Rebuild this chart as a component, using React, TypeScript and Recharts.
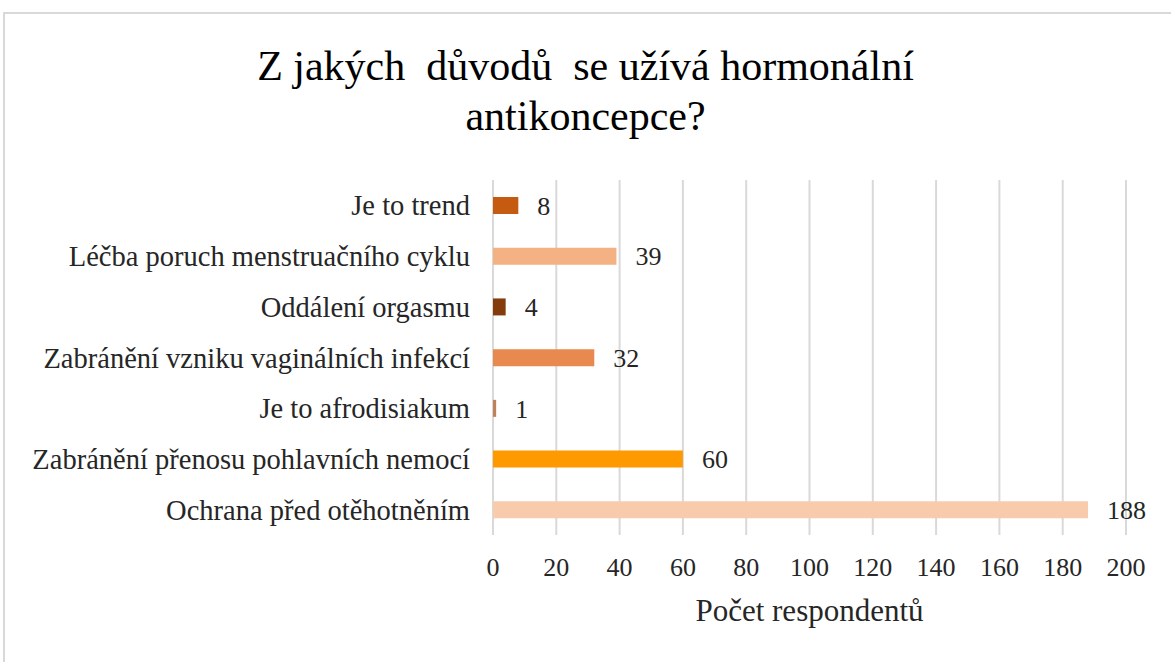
import React from "react";
import { BarChart, Bar, XAxis, YAxis, CartesianGrid, Cell, LabelList, Label } from "recharts";

const categories = [
  "Je to trend",
  "Léčba poruch menstruačního cyklu",
  "Oddálení orgasmu",
  "Zabránění vzniku vaginálních infekcí",
  "Je to afrodisiakum",
  "Zabránění přenosu pohlavních nemocí",
  "Ochrana před otěhotněním",
];
const values = [8, 39, 4, 32, 1, 60, 188];
const colors = ["#C55A11", "#F4B183", "#843C0C", "#E8894F", "#C0805A", "#FF9900", "#F8CBAD"];
const xTicks = [0, 20, 40, 60, 80, 100, 120, 140, 160, 180, 200];

const data = categories.map((c, i) => ({ name: c, value: values[i] }));

const FONT = "'Liberation Serif', 'Times New Roman', serif";

export default function App() {
  return (
    <div style={{ position: "absolute", left: 0, top: 0, width: 1171, height: 662, overflow: "hidden", background: "#fff", fontFamily: FONT }}>
      <div style={{ position: "absolute", left: 3, top: 12, width: 1200, height: 700, border: "2px solid #D9D9D9" }} />
      <div style={{ position: "absolute", left: 0, top: 41, width: 1171, textAlign: "center", fontSize: 42, lineHeight: "50px", color: "#000", whiteSpace: "pre" }}>
        {"Z jakých  důvodů  se užívá hormonální\nantikoncepce?"}
      </div>
      <div style={{ position: "absolute", left: 0, top: 0 }}>
        <BarChart
          width={1171}
          height={662}
          layout="vertical"
          data={data}
          margin={{ top: 180, right: 45, bottom: 0, left: 0 }}
          barCategoryGap={0}
        >
          <CartesianGrid horizontal={false} vertical stroke="#D9D9D9" strokeWidth={2} />
          <XAxis
            type="number"
            domain={[0, 200]}
            ticks={xTicks}
            interval={0}
            axisLine={false}
            tickLine={false}
            tickMargin={17}
            height={127}
            tick={{ fontSize: 26, fill: "#262626", fontFamily: FONT }}
          >
            <Label value="Počet respondentů" position="insideTop" offset={64} style={{ fontSize: 31, fill: "#262626", fontFamily: FONT }} />
          </XAxis>
          <YAxis
            type="category"
            dataKey="name"
            width={493}
            axisLine={false}
            tickLine={false}
            tickMargin={17}
            interval={0}
            tick={{ fontSize: 28.5, fill: "#262626", fontFamily: FONT }}
          />
          <Bar dataKey="value" barSize={17} isAnimationActive={false}>
            {data.map((d, i) => (
              <Cell key={i} fill={colors[i]} />
            ))}
            <LabelList dataKey="value" position="right" offset={19} style={{ fontSize: 26, fill: "#262626", fontFamily: FONT }} />
          </Bar>
        </BarChart>
      </div>
    </div>
  );
}
